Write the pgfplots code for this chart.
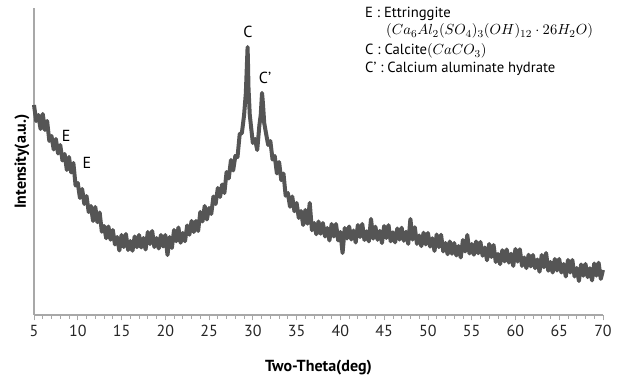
\documentclass[border=0pt]{standalone}
\usepackage{pgfplots}
\pgfplotsset{compat=1.18}
\usepackage{fontspec}
\setmainfont{PT Sans}
\definecolor{curve}{HTML}{555555}
\definecolor{axgray}{HTML}{A8A8A8}
\begin{document}
\begin{tikzpicture}
\useasboundingbox (-25.5pt,-52.5pt) rectangle (444pt,236.25pt);
\begin{axis}[
  scale only axis, width=426.75pt, height=230.25pt,
  at={(0,0)}, anchor=south west,
  xmin=5, xmax=70, ymin=0, ymax=307,
  axis x line=bottom, axis y line=left,
  axis line style={-, axgray, line width=0.8pt},
  xtick={5,10,...,70}, minor x tick num=4,
  ytick=\empty,
  tick align=outside, major tick length=4pt, minor tick length=3pt,
  every tick/.style={axgray, line width=0.6pt},
  /pgf/number format/assume math mode=true,
  ticklabel style={font=\fontsize{12}{13}\selectfont, text=black!85},
  xlabel={\textbf{Two-Theta(deg)}},
  ylabel={\textbf{Intensity(a.u.)}},
  label style={font=\fontsize{12}{13}\selectfont},
  xlabel style={at={(axis description cs:0.5,0)}, anchor=center, yshift=-39.5pt},
  ylabel style={at={(axis description cs:0,0.5)}, anchor=center, rotate=0, yshift=9pt},
  clip=false,
]
\addplot[curve, line width=3pt, line join=round] table[row sep=\\] {
x y\\
5.00 210\\ 5.25 194\\ 5.50 200\\ 5.75 186\\ 6.00 201\\ 6.25 185\\ 6.50 194\\ 6.75 174\\ 7.00 179\\ 7.25 165.5\\ 7.50 176\\ 7.75 161.5\\
8.00 170\\ 8.25 154.5\\ 8.50 161\\ 8.75 145\\ 9.00 158\\ 9.25 142.5\\ 9.50 152\\ 9.75 129.5\\ 10.00 132\\ 10.25 117\\ 10.50 126\\ 10.75 111\\
11.00 119\\ 11.25 103\\ 11.50 109\\ 11.75 94\\ 12.00 108\\ 12.25 92.75\\ 12.50 102.5\\ 12.75 83.25\\ 13.00 89\\ 13.25 76.75\\ 13.50 88.5\\ 13.75 75.25\\
14.00 85\\ 14.25 70.5\\ 14.50 78\\ 14.75 64.5\\ 15.00 80\\ 15.25 68\\ 15.50 81\\ 15.75 65\\ 16.00 74\\ 16.25 64.25\\ 16.50 78.5\\ 16.75 67.75\\
17.00 80\\ 17.25 67.5\\ 17.50 77\\ 17.75 65.5\\ 18.00 83\\ 18.25 71\\ 18.50 84\\ 18.75 68\\ 19.00 77\\ 19.25 66.5\\ 19.50 80\\ 19.75 68.5\\
20.00 80\\ 20.25 60\\ 20.50 78\\ 20.75 67\\ 21.00 85\\ 21.25 73.75\\ 21.50 87.5\\ 21.75 72.25\\ 22.00 82\\ 22.25 73.75\\ 22.50 89.5\\ 22.75 80.25\\
23.00 94\\ 23.25 83\\ 23.50 94\\ 23.75 84\\ 24.00 103\\ 24.25 93.5\\ 24.50 109\\ 24.75 95.5\\ 25.00 107\\ 25.25 101\\ 25.50 118.5\\ 25.75 111\\
26.00 127\\ 26.25 118\\ 26.50 130.5\\ 26.75 122\\ 27.00 143\\ 27.25 136.5\\ 27.50 155\\ 27.75 144.5\\ 28.00 159\\ 28.25 158\\ 28.50 181\\ 28.75 182\\
29.00 200\\ 29.20 222\\ 29.30 245\\ 29.40 268\\ 29.45 250\\ 29.50 228\\ 29.65 200\\ 29.80 188\\ 30.00 172\\ 30.25 176\\ 30.50 165\\ 30.75 190\\
30.90 200\\ 31.05 222\\ 31.15 212\\ 31.30 192\\ 31.50 182\\ 31.75 170\\
32.00 174\\ 32.25 155.5\\ 32.50 159\\ 32.75 141.5\\ 33.00 153\\ 33.25 134.75\\ 33.50 141.5\\ 33.75 119.25\\ 34.00 122\\ 34.25 108.25\\ 34.50 118.5\\ 34.75 103.75\\
35.00 112\\ 35.25 97\\ 35.50 104\\ 35.75 90\\ 36.00 105\\ 36.25 91.25\\ 36.50 112\\ 36.75 84.75\\ 37.00 92\\ 37.25 80.75\\ 37.50 93.5\\ 37.75 81.25\\
38.00 92\\ 38.25 78.5\\ 38.50 87\\ 38.75 74.5\\ 39.00 91\\ 39.25 78.5\\ 39.50 91\\ 39.75 74.5\\ 40.00 83\\ 40.25 62\\ 40.50 87\\ 40.75 76.5\\
41.00 88.5\\ 41.25 75.5\\ 41.50 84.5\\ 41.75 72.5\\ 42.00 90\\ 42.25 78\\ 42.50 91\\ 42.75 75\\ 43.00 83.7\\ 43.25 73.6\\ 43.50 96\\ 43.75 76.4\\
44.00 88.3\\ 44.25 75.2\\ 44.50 84.1\\ 44.75 72\\ 45.00 89\\ 45.25 77\\ 45.50 89.8\\ 45.75 73.7\\ 46.00 82.7\\ 46.25 72.6\\ 46.50 86.5\\ 46.75 75.4\\
47.00 87.3\\ 47.25 74.2\\ 47.50 83.2\\ 47.75 71.1\\ 48.00 96\\ 48.25 75.4\\ 48.50 87.75\\ 48.75 71.1\\ 49.00 79.5\\ 49.25 68.9\\ 49.50 82.25\\ 49.75 70.6\\
50.00 82\\ 50.25 68.4\\ 50.50 76.75\\ 50.75 64.1\\ 51.00 80.5\\ 51.25 67.9\\ 51.50 80.25\\ 51.75 63.6\\ 52.00 72\\ 52.25 60.75\\ 52.50 73.5\\ 52.75 61.25\\
53.00 72\\ 53.25 59.5\\ 53.50 69\\ 53.75 57.5\\ 54.00 75\\ 54.25 63.5\\ 54.50 80\\ 54.75 61.5\\ 55.00 71\\ 55.25 60.25\\ 55.50 73.5\\ 55.75 61.75\\
56.00 73\\ 56.25 59.25\\ 56.50 67.5\\ 56.75 54.75\\ 57.00 71\\ 57.25 58\\ 57.50 70\\ 57.75 53\\ 58.00 61\\ 58.25 50.9\\ 58.50 64.75\\ 58.75 53.6\\
59.00 65.5\\ 59.25 52.4\\ 59.50 61.25\\ 59.75 49.1\\ 60.00 66\\ 60.25 53.4\\ 60.50 65.75\\ 60.75 49.1\\ 61.00 57.5\\ 61.25 46.9\\ 61.50 60.25\\ 61.75 48.6\\
62.00 60\\ 62.25 46.75\\ 62.50 55.5\\ 62.75 43.25\\ 63.00 60\\ 63.25 47.75\\ 63.50 62\\ 63.75 44.25\\ 64.00 53\\ 64.25 42.5\\ 64.50 56\\ 64.75 44.5\\
65.00 56\\ 65.25 42.5\\ 65.50 51\\ 65.75 38.5\\ 66.00 55\\ 66.25 42.5\\ 66.50 55\\ 66.75 38.5\\ 67.00 47\\ 67.25 34\\ 67.50 50.5\\ 67.75 39.25\\
68.00 51\\ 68.25 37.9\\ 68.50 46.75\\ 68.75 34.6\\ 69.00 51.5\\ 69.25 39.4\\ 69.50 52.25\\ 69.75 36.1\\ 70.00 45\\
};
\node[font=\fontsize{12}{14}\selectfont] at (axis cs:29.45,283) {C};
\node[font=\fontsize{12}{14}\selectfont] at (axis cs:31.4,237) {C’};
\node[font=\fontsize{12}{14}\selectfont] at (axis cs:8.66,179) {E};
\node[font=\fontsize{12}{14}\selectfont] at (axis cs:11.05,152) {E};
\node[font=\fontsize{11}{13}\selectfont, anchor=base west, inner sep=0pt] at (axis cs:42.8,297) {E : Ettringgite};
\node[font=\fontsize{11}{13}\selectfont, anchor=base west, inner sep=0pt] at (axis cs:45.2,280) {$(Ca_6Al_2(SO_4)_3(OH)_{12}\cdot 26H_2O)$};
\node[font=\fontsize{11}{13}\selectfont, anchor=base west, inner sep=0pt] at (axis cs:42.8,260) {C : Calcite$(CaCO_3)$};
\node[font=\fontsize{11}{13}\selectfont, anchor=base west, inner sep=0pt] at (axis cs:42.8,242) {C’ : Calcium aluminate hydrate};
\end{axis}
\end{tikzpicture}
\end{document}
